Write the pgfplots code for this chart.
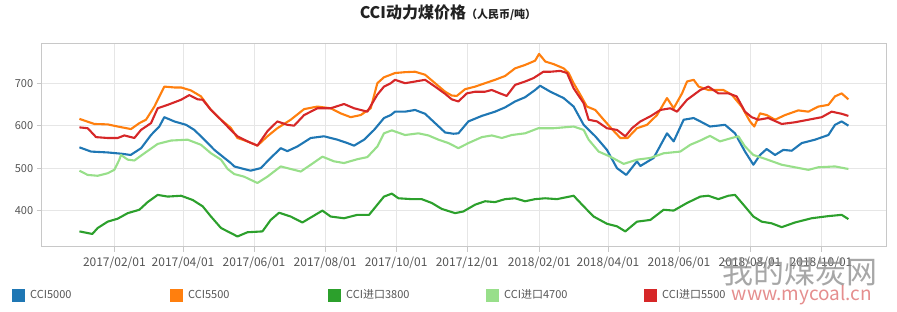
\documentclass[border=0pt]{standalone}
\usepackage{fontspec}
\setmainfont{Noto Sans CJK SC}
\usepackage{pgfplots}
\pgfplotsset{compat=1.18}
\definecolor{cblue}{HTML}{1F77B4}
\definecolor{corange}{HTML}{FF7F0E}
\definecolor{cdgreen}{HTML}{2CA02C}
\definecolor{clgreen}{HTML}{98DF8A}
\definecolor{cred}{HTML}{D62728}
\definecolor{gridgray}{HTML}{E6E6E6}
\definecolor{axisgray}{HTML}{C8C8C8}
\definecolor{labelgray}{HTML}{555555}
\definecolor{titlegray}{HTML}{222222}
\definecolor{wmgray}{HTML}{8A8A8A}
\definecolor{wmred}{HTML}{E07A7A}
\begin{document}
\begin{tikzpicture}[x=1pt,y=1pt]
\useasboundingbox (0,0) rectangle (897,312);
\begin{axis}[
  at={(41.7pt,65.3pt)}, anchor=south west,
  scale only axis, width=845pt, height=203.4pt,
  xmin=-31.4, xmax=694.4, ymin=315, ymax=794,
  xtick={31,90,151,212,273,334,396,455,516,577,638},
  xticklabels={2017/02/01,2017/04/01,2017/06/01,2017/08/01,2017/10/01,2017/12/01,2018/02/01,2018/04/01,2018/06/01,2018/08/01,2018/10/01},
  ytick={400,500,600,700},
  tick pos=left,
  grid=major, major grid style={draw=gridgray, line width=0.6pt},
  axis line style={draw=axisgray, line width=0.8pt},
  tick align=outside, major tick length=5pt,
  tick style={draw=axisgray, line width=0.8pt},
  every tick label/.append style={font=\fontsize{11}{13}\selectfont, text=labelgray},
  x tick label style={font=\fontsize{12}{14}\selectfont, yshift=-2pt},
  /pgf/number format/assume math mode=true,
  legend columns=5,
  legend style={at={(-0.0387,-0.2375)}, anchor=west, draw=none, fill=none,
    font=\fontsize{11}{13}\selectfont, text=labelgray,
    /tikz/every odd column/.append style={column sep=3pt},
    /tikz/every even column/.append style={column sep=0pt}},
  legend image code/.code={\fill[#1, draw=none] (0pt,-6.5pt) rectangle (13pt,6.5pt);},
  every axis plot/.append style={line width=2.1pt, line join=round, no marks},
]
\addplot[cblue] coordinates {
(1,549)(11,539)(25,537)(37,534)(45,531)(54,547)(62.5,578)(69.6,598)(73.9,620)(82.5,610)(92.6,602)(99.7,590)(108.3,567)(116.9,543)(125.5,524)(131,512)(134,504)(139.5,500)(148,494)(156.7,500)(165.3,524)(173.9,547)(179.6,540)(188.2,551)(199.7,571)(211.1,575)(222.6,567)(231.2,559)(236.9,553)(245.5,567)(254.1,590)(262.6,618)(268.4,625)(272.1,633)(280.7,633)(289.3,637)(297.9,628)(306.5,606)(315.1,584)(322.2,581)(326.5,582)(335.1,610)(346.6,623)(358,633)(366.6,643)(375.2,657)(383.8,667)(392.4,684)(396.7,694)(405.5,680)(416.9,665)(425.5,645)(434.1,602)(444.1,575)(454.1,543)(462.7,500)(470.7,484)(479.9,516)(482.8,505)(494.2,524)(505.7,582)(511.4,563)(520,614)(528.6,618)(534.3,610)(542.6,598)(555.5,602)(564.1,582)(572.7,539)(579.9,508)(585.6,531)(591.3,545)(598.5,531)(605.6,543)(612.8,541)(621.4,559)(632.8,567)(644.3,578)(650,602)(655.7,610)(661.5,600)
};
\addlegendentry{\makebox[138pt][l]{CCI5000}}
\addplot[corange] coordinates {
(1,616)(13.8,604)(25.3,603)(33.9,598)(45.3,592)(52.5,606)(58.2,614)(65.4,645)(73.9,692)(82.5,690)(88.3,690)(96.8,683)(105.4,669)(114,637)(122.6,614)(131,595)(136.7,571)(145.3,563)(153.9,553)(162.5,575)(171,594)(182.5,614)(194,639)(205.4,645)(216.8,641)(225.4,629)(234,620)(242.6,625)(251.2,641)(256.9,700)(262.6,714)(268.4,720)(272.1,724)(280.7,726)(289.3,727)(297.9,720)(306.5,700)(315.1,680)(320.8,671)(325.1,670)(332.3,686)(340.9,692)(349.4,700)(358,708)(366.6,717)(375.2,735)(383.8,743)(392.4,753)(395.8,769)(401.2,751)(408.3,745)(416.9,735)(421.2,724)(425.5,700)(431.2,673)(436.9,645)(444.1,637)(451.3,614)(458.4,592)(465.6,571)(471.9,571)(479.9,594)(488.5,602)(497.1,625)(505.7,665)(511.4,641)(518.6,676)(522.9,704)(528.6,708)(532.9,692)(541.2,684)(554.1,684)(561.3,673)(569.8,645)(577,610)(580.7,598)(585.6,629)(591.3,625)(598.5,614)(607.1,625)(618.5,636)(627.1,633)(635.7,645)(644.3,649)(650,669)(655.7,676)(661.5,662)
};
\addlegendentry{\makebox[138pt][l]{CCI5500}}
\addplot[cdgreen] coordinates {
(1,351)(12.1,345)(16.7,359)(25.3,374)(33.9,381)(42.5,394)(52.5,402)(59.6,420)(68.2,437)(76.8,433)(88.3,435)(98.3,425)(106.9,410)(114,386)(122.6,359)(134,343)(136.7,339)(145.3,349)(158.2,351)(165.3,378)(172.5,395)(182.5,386)(192.5,372)(201.1,386)(209.7,400)(216.8,386)(228.3,382)(239.7,390)(249.8,390)(256.9,414)(262.6,433)(269.3,440)(275,429)(286.5,427)(295,427)(303.6,418)(312.2,404)(323.7,394)(330.8,398)(340.9,414)(349.4,422)(358,420)(366.6,427)(375.2,429)(383.8,422)(392.4,427)(401,429)(411.2,427)(425.5,435)(434.1,410)(442.7,386)(454.1,369)(462.7,363)(469.9,351)(479.9,374)(491.4,378)(502.8,402)(511.4,400)(522.9,418)(534.3,433)(541.2,435)(549.8,427)(558.4,435)(564.1,437)(571.3,414)(579.9,386)(587,374)(595.6,370)(604.2,361)(615.6,372)(629.9,382)(644.3,387)(655.7,390)(661.5,380)
};
\addlegendentry{\makebox[138pt][l]{CCI进口3800}}
\addplot[clgreen] coordinates {
(1,494)(8.1,484)(16.7,482)(25.3,488)(31,496)(35.3,520)(36.7,531)(42.5,520)(48.2,518)(56.8,535)(68.2,557)(79.7,565)(94,567)(105.4,555)(114,535)(122.6,520)(128.3,498)(134,486)(142.4,480)(153.9,465)(162.5,480)(173.9,504)(182.5,498)(191.1,492)(199.7,508)(209.7,527)(219.7,516)(228.3,512)(239.7,521)(248.3,526)(256.9,551)(262.6,582)(269.3,589)(280.7,578)(292.2,582)(300.8,577)(309.4,567)(318,559)(326.5,547)(335.1,559)(346.6,573)(355.2,577)(363.8,571)(372.3,578)(383.8,582)(395.2,594)(408.3,594)(425.5,598)(434.1,590)(438.4,567)(447,539)(457,527)(468.5,510)(479.9,520)(491.4,524)(502.8,535)(517.1,539)(525.7,555)(534.3,565)(542.6,576)(551.2,563)(561.3,571)(567,575)(572.7,551)(579.9,531)(589.9,522)(604.2,508)(615.6,502)(627.1,496)(635.7,502)(650,504)(661.5,498)
};
\addlegendentry{\makebox[138pt][l]{CCI进口4700}}
\addplot[cred] coordinates {
(1,596)(8.1,594)(15.3,573)(25.3,571)(33.9,571)(39.6,577)(48.2,571)(53.9,590)(62.5,606)(68.2,641)(76.8,649)(88.3,661)(95.4,672)(102.6,662)(106.9,661)(114,637)(122.6,614)(131,590)(136.7,575)(145.3,563)(153.9,553)(162.5,587)(171,610)(179.6,602)(185.4,600)(194,625)(205.4,641)(216.8,641)(228.3,651)(236.9,641)(248.3,633)(256.9,673)(262.6,692)(268.4,700)(272.1,708)(280.7,700)(289.3,704)(297.9,708)(306.5,692)(315.1,675)(320.8,662)(326.5,657)(333.7,676)(340.9,680)(349.4,680)(355.2,684)(362.3,676)(368,670)(375.2,696)(383.8,704)(391,712)(399.5,727)(405.5,727)(414.1,729)(419.8,724)(425.5,688)(434.1,653)(438.4,614)(445.6,610)(454.1,594)(462.7,590)(469.9,575)(475.6,594)(482.8,610)(491.4,622)(500,637)(508.5,641)(514.3,633)(522.9,661)(534.3,684)(541.2,692)(549.8,676)(558.4,676)(565.5,669)(572.7,633)(578.4,620)(584.2,614)(592.7,618)(604.2,604)(615.6,608)(627.1,614)(638.6,620)(647.1,633)(655.7,628)(661.5,623)
};
\addlegendentry{\makebox[138pt][l]{CCI进口5500}}
\end{axis}
\node[anchor=center, text=titlegray, inner sep=0pt] at (448,299.5)
  {{\bfseries\fontsize{16}{18}\selectfont CCI动力煤价格}{\bfseries\fontsize{11}{13}\selectfont （人民币/吨）}};
\node[anchor=center, text=wmgray, opacity=0.75, inner sep=0pt] at (800,40)
  {\fontsize{31}{33}\selectfont 我的煤炭网};
\node[anchor=center, text=wmred, opacity=0.85, inner sep=0pt] at (802,17)
  {\fontsize{19}{21}\selectfont www.mycoal.cn};
\end{tikzpicture}
\end{document}
